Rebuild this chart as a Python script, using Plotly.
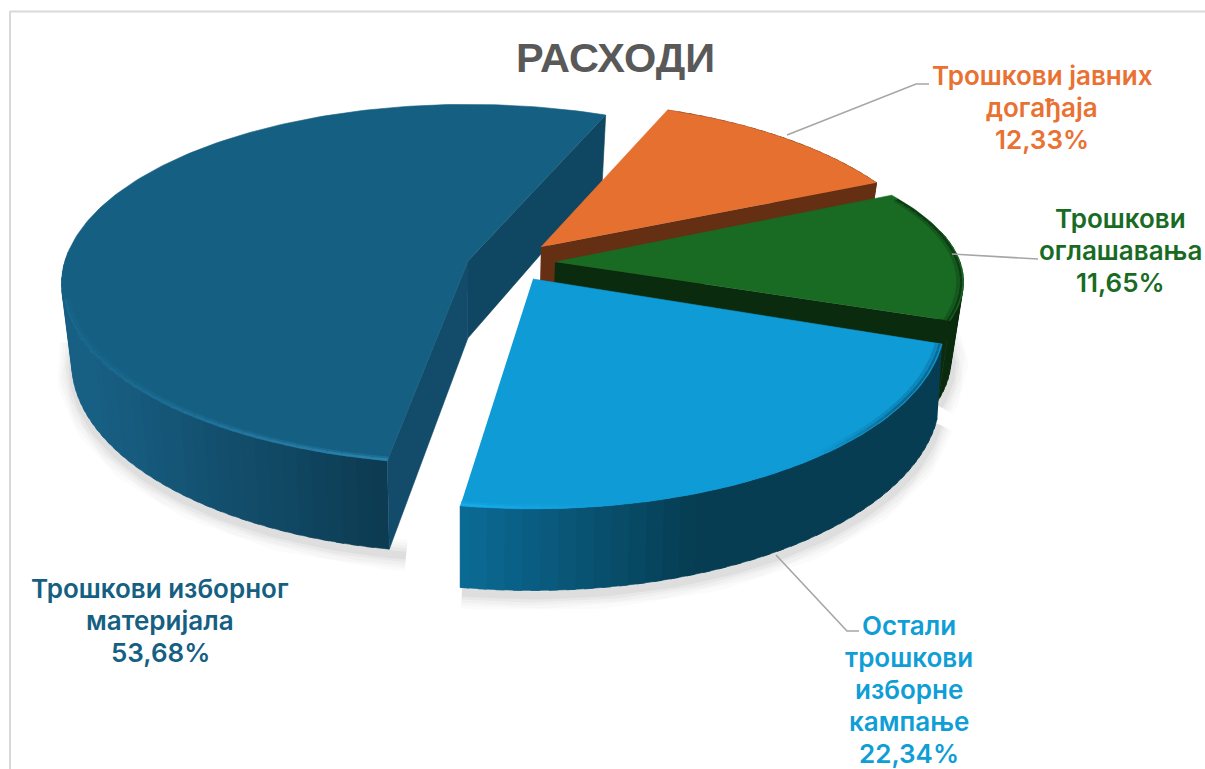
import numpy as np
import plotly.graph_objects as go

# ---- data ----
categories = ["Трошкови јавних догађаја", "Трошкови оглашавања",
              "Остали трошкови изборне кампање", "Трошкови изборног материјала"]
values = [12.33, 11.65, 22.34, 53.68]
value_labels = ["12,33%", "11,65%", "22,34%", "53,68%"]
label_lines = [["Трошкови јавних", "догађаја"], ["Трошкови", "оглашавања"],
               ["Остали", "трошкови", "изборне", "кампање"], ["Трошкови изборног", "материјала"]]
title_text = "РАСХОДИ"

# ---- style ----
text_col = ["#E97132", "#196B24", "#0F9ED5", "#156082"]
face = ["#E5702F", "#196B24", "#0F9BD6", "#156082"]
cut_col = ["#642F13", "#0A2B0D", "#063D53", "#134B6B"]
cut2_col = ["#642F13", "#0A2B0D", "#063D53", "#0F4661"]
side_l = ["#642F13", "#0A2B0D", "#0B6A94", "#185F84"]
side_d = ["#642F13", "#0A2B0D", "#063D53", "#0C3A50"]
side_rng = [(0, 1), (0, 1), (463, 690), (90, 387)]
rim_l = [None, "#0E3B13", "#16ABE8", "#19688E"]
rim_d = [None, "#0E3B13", "#0A6A93", "#2A82AE"]
rim_rng = [(0, 1), (860, 950), (470, 900), (100, 380)]
rim_sin = [0, 0.45, -0.02, -0.2]
show_start_cut = [False, False, False, True]
show_end_cut = [True, True, False, True]
apex = [(541, 247), (555, 262), (533, 279), (468, 261)]
label_pos = [(1042, 75), (1120, 218), (909, 625), (160, 588)]
LINE_H = 32.0
A, B, START = 405.0, 177.0, 67.5
K = [0.21, 0.13, 0.23, 0.13]
RX = [0.975, 1.0, 0.99, 0.995]
BY = [1.0, 0.85, 1.0, 1.0]
ANG_ADJ = [(0, 0), (5, -3), (-1, 1.2), (-0.8, 0)]  # perspective correction of slice edges, degrees
H = [71.0, 76.0, 71.0, 77.0]
VANISH_X = 465.0
VANISH_F = [0.975, 0.975, 0.99, 0.975]
LEADERS = [[(787, 135), (916, 84), (929, 84)], [(952, 254), (1030, 259), (1038, 259)],
           [(776, 555), (847, 631), (859, 631)]]
SHADOW_RANGE = [(40, 20), (20, -22), (-20, -98), (180, 262)]
KZ = 0.13


def pt(theta, i, z=0.0, inset=0.0):
    """Project an angle of slice i on the pie rim to the picture; z=1 is the underside."""
    t = np.radians(theta)
    s = (1.0 - inset) / (1.0 + K[i] * np.sin(t))
    sz = 1.0 / (1.0 + KZ * np.sin(t))
    x = apex[i][0] + A * RX[i] * np.cos(t) * s
    y = apex[i][1] - B * BY[i] * np.sin(t) * s + H[i] * sz * z
    if z:
        x = VANISH_X + (x - VANISH_X) * (1 - (1 - VANISH_F[i]) * z)
    return x, y


def hex2rgb(c):
    return np.array([int(c[j:j + 2], 16) for j in (1, 3, 5)], float)


def mix(c1, c2, t):
    t = min(1.0, max(0.0, t))
    v = hex2rgb(c1) * (1 - t) + hex2rgb(c2) * t
    return "#%02X%02X%02X" % tuple(int(round(x)) for x in v)


fig = go.Figure()


def poly(xs, ys, col):
    fig.add_trace(go.Scatter(x=list(xs), y=list(ys), mode="lines", fill="toself", fillcolor=col,
                             line=dict(color=col, width=0.6), hoverinfo="skip", showlegend=False))


def stroke(xs, ys, col, w):
    fig.add_trace(go.Scatter(x=list(xs), y=list(ys), mode="lines",
                             line=dict(color=col, width=w), hoverinfo="skip", showlegend=False))


ang = [START]
for v in values:
    ang.append(ang[-1] - v * 3.6)

# soft shadows under the front of each slice
for i in range(4):
    a0, a1 = SHADOW_RANGE[i]
    th = np.linspace(a0, a1, 80)
    x, y = pt(th, i, 1.0)
    for w, o in ((32, .016), (26, .02), (20, .025), (14, .03), (8, .04)):
        stroke(x + 1, y + 5, f"rgba(0,0,0,{o})", w)

for i in [3, 0, 1, 2]:
    a0, a1 = ang[i] + ANG_ADJ[i][0], ang[i + 1] + ANG_ADJ[i][1]
    ap = apex[i]
    th = np.linspace(a0, a1, int(abs(a1 - a0)) + 2)
    # curved side as narrow strips
    step = 2
    for j in range(0, len(th) - 1, step):
        seg = th[j:j + step + 2]
        limit = 0.2 if i == 1 else 0.05
        if np.sin(np.radians(seg)).mean() > limit and i in (1, 2, 3):
            continue
        xt, yt = pt(seg, i)
        xb, yb = pt(seg, i, 1.0)
        lo, hi = side_rng[i]
        c = mix(side_l[i], side_d[i], (xt.mean() - lo) / (hi - lo))
        poly(list(xt) + list(xb[::-1]), list(yt) + list(yb[::-1]), c)
    # flat cut faces
    apb_x = VANISH_X + (ap[0] - VANISH_X) * VANISH_F[i]
    apb_y = ap[1] + H[i]
    if show_start_cut[i]:
        x0, y0 = pt(a0, i)
        x0b, y0b = pt(a0, i, 1.0)
        poly([ap[0], x0, x0b, apb_x], [ap[1], y0, y0b, apb_y], cut_col[i])
    if show_end_cut[i]:
        x1, y1 = pt(a1, i)
        x1b, y1b = pt(a1, i, 1.0)
        poly([ap[0], x1, x1b, apb_x], [ap[1], y1, y1b, apb_y], cut2_col[i])
    # top face
    xt, yt = pt(th, i)
    poly([ap[0]] + list(xt), [ap[1]] + list(yt), face[i])
    # bevel along the front edge
    if rim_l[i] is not None:
        for j in range(0, len(th) - 1, 2):
            seg = th[j:j + 3]
            if np.sin(np.radians(seg)).mean() > rim_sin[i]:
                continue
            xs, ys = pt(seg, i, inset=0.006)
            xw, yw = pt(seg, i, inset=0.014)
            lo, hi = rim_rng[i]
            t = (xs.mean() - lo) / (hi - lo)
            if i == 2:
                c = mix(rim_l[i], face[i], t * 3) if t < 0.5 else mix(face[i], rim_d[i], (t - 0.8) * 5)
            else:
                c = mix(rim_l[i], rim_d[i], t)
            stroke(xw, yw, mix(c, face[i], 0.6), 3)
            stroke(xs, ys, c, 2.5)

# leader lines
for pts in LEADERS:
    stroke([p[0] for p in pts], [p[1] for p in pts], "#A6A6A6", 1.6)

# frame of the chart area
fig.add_shape(type="line", x0=10, x1=1205, y0=11.5, y1=11.5, line=dict(color="#D9D9D9", width=2))
fig.add_shape(type="line", x0=10, x1=10, y0=11, y1=769, line=dict(color="#D9D9D9", width=2))

# title and labels
ann = [dict(x=615, y=57.5, text=f"<b>{title_text}</b>", showarrow=False,
            font=dict(family="Liberation Sans", size=41.5, color="#595959"))]
for i in range(4):
    lines = label_lines[i] + [value_labels[i]]
    for k, ln in enumerate(lines):
        ann.append(dict(x=label_pos[i][0], y=label_pos[i][1] + k * LINE_H, text=ln,
                        showarrow=False,
                        font=dict(family="Inter", size=26, color=text_col[i], weight=600)))

fig.update_layout(width=1205, height=769, margin=dict(l=0, r=0, t=0, b=0),
                  paper_bgcolor="white", plot_bgcolor="white", annotations=ann,
                  xaxis=dict(range=[0, 1205], visible=False, fixedrange=True),
                  yaxis=dict(range=[769, 0], visible=False, fixedrange=True))
fig.write_html("out.html", config=dict(displayModeBar=False),
               post_script="document.body.style.margin='0';document.documentElement.style.overflow='hidden';")
